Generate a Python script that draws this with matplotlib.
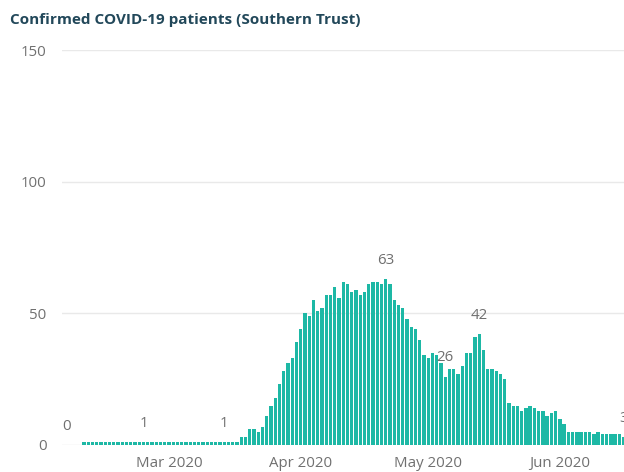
import matplotlib
matplotlib.use("Agg")
import matplotlib.pyplot as plt
import matplotlib.dates as mdates
import pandas as pd

# daily confirmed patients, 6 Feb 2020 .. 16 Jun 2020
start_date = "2020-02-06"
patients = [
    0, 0, 0, 0,
    1, 1, 1, 1, 1, 1, 1, 1, 1, 1, 1, 1, 1, 1, 1, 1, 1, 1, 1, 1,
    1, 1, 1, 1, 1, 1, 1, 1, 1, 1, 1, 1, 1, 1, 1, 1, 1,
    3, 3, 6, 6, 5, 7, 11, 15, 18, 23, 28, 31, 33, 39,
    44, 50, 49, 55, 51, 52, 57, 57, 60, 56, 62, 61, 58, 59,
    57, 58, 61, 62, 62, 61, 63, 61, 55, 53, 52, 48, 45, 44,
    40, 34, 33, 35, 34, 31, 26, 29, 29, 27, 30, 35, 35, 41,
    42, 36, 29, 29, 28, 27, 25, 16, 15, 15, 13, 14, 15, 14,
    13, 13, 11, 12, 13, 10, 8, 5, 5, 5, 5, 5, 5, 4,
    5, 4, 4, 4, 4, 4, 3,
]
label_dates = ["2020-02-06", "2020-02-24", "2020-03-14", "2020-04-21",
               "2020-05-05", "2020-05-13", "2020-06-16"]
month_ticks = ["2020-03-01", "2020-04-01", "2020-05-01", "2020-06-01"]
y_ticks = [0, 50, 100, 150]

dates = pd.date_range(start_date, periods=len(patients), freq="D")
series = pd.Series(patients, index=dates)

plt.rcParams['font.family'] = ['Open Sans', 'DejaVu Sans']

fig = plt.figure(figsize=(6.24, 4.72), dpi=100)
ax = fig.add_axes([62 / 624, 27 / 472, 1 - 62 / 624, 395 / 472])

ax.bar(dates, patients, width=0.78, color='#1db8a5', zorder=3)

for d in label_dates:
    ts = pd.Timestamp(d)
    ax.annotate(str(series[ts]), (ts, series[ts]), xytext=(0, 13.5),
                textcoords='offset points', ha='center', va='center',
                fontsize=10.8, color='#6f6f6f', zorder=4, annotation_clip=False)

ax.set_ylim(0, 150)
ax.set_yticks(y_ticks)
ax.set_xlim(pd.Timestamp("2020-02-04 20:00"), pd.Timestamp("2020-06-16 02:00"))
ax.set_xticks([pd.Timestamp(m) for m in month_ticks])
ax.xaxis.set_major_formatter(mdates.DateFormatter("%b %Y"))

ax.grid(axis='y', color='#e9e9e9', linewidth=1, zorder=0)
for s in ax.spines.values():
    s.set_visible(False)
ax.tick_params(axis='both', length=0, labelsize=10.8, colors='#707070')
ax.tick_params(axis='x', pad=8)
ax.tick_params(axis='y', pad=11)

fig.text(10 / 624, 1 - 20 / 472, "Confirmed COVID-19 patients (Southern Trust)",
         fontsize=11, fontweight='bold', color='#22485a', va='center', ha='left')

fig.savefig("out.png", dpi=100)
